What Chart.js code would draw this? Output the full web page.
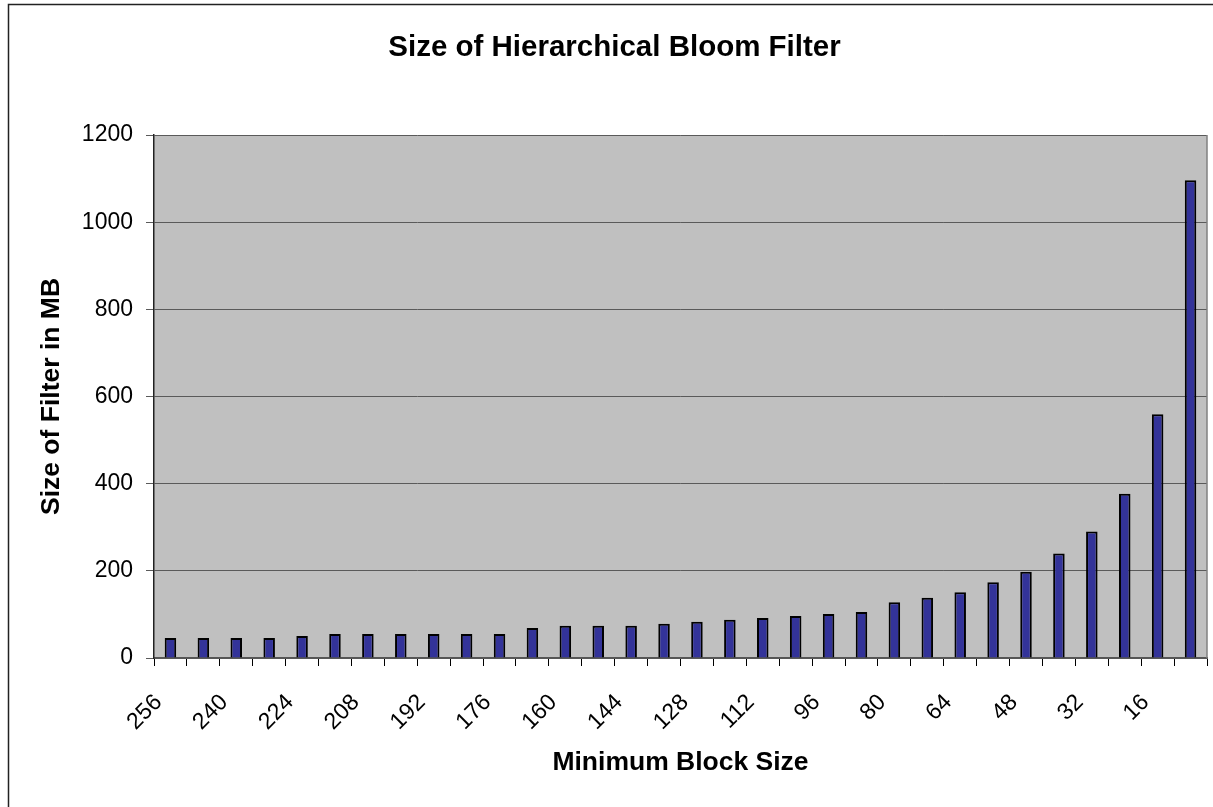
<!DOCTYPE html>
<html>
<head>
<meta charset="utf-8">
<script src="https://cdn.jsdelivr.net/npm/chart.js@4/dist/chart.umd.min.js"></script>
<style>
  html, body { margin: 0; padding: 0; background: #fff; }
  #wrap { position: absolute; left: 0; top: 0; width: 1213px; height: 807px; }
</style>
</head>
<body>
<div id="wrap"><canvas id="bloomChart"></canvas></div>
<script>
// minimum block size (x categories), largest first like the original sheet
const blockSizes = [256, 248, 240, 232, 224, 216, 208, 200, 192, 184, 176, 168, 160, 152, 144, 136,
                    128, 120, 112, 104, 96, 88, 80, 72, 64, 56, 48, 40, 32, 24, 16, 8];
// size of the filter in MB
const filterSizes = [46, 46, 46, 46, 50.6, 55, 55, 55, 55, 55, 55, 68.7, 74, 74, 74, 78.5,
                     83, 87.5, 92, 96.6, 101, 105.7, 128, 138, 151, 174, 198, 240, 290, 377, 559, 1096];
const yTicks = [0, 200, 400, 600, 800, 1000, 1200];

const FONT = "'Liberation Sans', Arial, sans-serif";

// grey plot area, outer frame and right edge of the plot
const plotFrame = {
  id: "plotFrame",
  beforeDraw(chart) {
    const { ctx, chartArea } = chart;
    ctx.save();
    ctx.fillStyle = "#c0c0c0";
    ctx.fillRect(chartArea.left, chartArea.top, chartArea.right - chartArea.left, chartArea.bottom - chartArea.top);
    ctx.strokeStyle = "#222";
    ctx.lineWidth = 1.5;
    ctx.beginPath();
    ctx.moveTo(8.5, 807);
    ctx.lineTo(8.5, 4.5);
    ctx.lineTo(1213, 4.5);
    ctx.stroke();
    ctx.restore();
  },
  afterDraw(chart) {
    const { ctx, chartArea } = chart;
    ctx.save();
    ctx.strokeStyle = "#808080";
    ctx.lineWidth = 1.5;
    ctx.beginPath();
    ctx.moveTo(chartArea.right, chartArea.top);
    ctx.lineTo(chartArea.right, chartArea.bottom);
    ctx.stroke();
    ctx.restore();
  }
};

const ctx = document.getElementById("bloomChart").getContext("2d");

new Chart(ctx, {
  type: "bar",
  data: {
    labels: blockSizes.map(String),
    datasets: [{
      label: "Size of Filter in MB",
      data: filterSizes,
      backgroundColor: "#333399",
      borderColor: "#000",
      borderWidth: 2,
      barPercentage: 0.35,
      categoryPercentage: 1.0
    }]
  },
  options: {
    responsive: true,
    maintainAspectRatio: false,
    animation: false,
    layout: { padding: { left: 22, right: 6, top: 0, bottom: 0 } },
    plugins: {
      legend: { display: false },
      tooltip: { enabled: false },
      title: {
        display: true,
        text: "Size of Hierarchical Bloom Filter",
        color: "#000",
        font: { family: FONT, size: 29.5, weight: "bold" },
        padding: { top: 30, bottom: 69.6 }
      }
    },
    scales: {
      x: {
        afterFit(scale) {
          scale.height = 149;
          scale.paddingLeft = 0;
          scale.paddingRight = 0;
        },
        grid: {
          offset: true,
          drawOnChartArea: false,
          drawTicks: true,
          tickLength: 8,
          color: "#000"
        },
        border: { color: "#555", width: 1.5 },
        ticks: {
          autoSkip: false,
          maxRotation: 45,
          minRotation: 45,
          padding: 23,
          labelOffset: -12,
          color: "#000",
          font: { family: FONT, size: 23 },
          callback: (value, index) => (index % 2 === 0 ? blockSizes[index] : "")
        },
        title: {
          display: true,
          text: "Minimum Block Size",
          color: "#000",
          font: { family: FONT, size: 26.5, weight: "bold" },
          padding: { top: 0, bottom: 28 }
        }
      },
      y: {
        afterFit(scale) { scale.width = 132; },
        min: yTicks[0],
        max: yTicks[yTicks.length - 1],
        ticks: {
          stepSize: yTicks[1] - yTicks[0],
          padding: 13,
          color: "#000",
          font: { family: FONT, size: 23 },
          callback: value => String(value)
        },
        grid: {
          color: "#5a5a5a",
          lineWidth: 1,
          tickLength: 8
        },
        border: { color: "#222", width: 1.5 },
        title: {
          display: true,
          text: "Size of Filter in MB",
          color: "#000",
          font: { family: FONT, size: 26.5, weight: "bold" },
          padding: { top: 14, bottom: 0 }
        }
      }
    }
  },
  plugins: [plotFrame]
});
</script>
</body>
</html>
